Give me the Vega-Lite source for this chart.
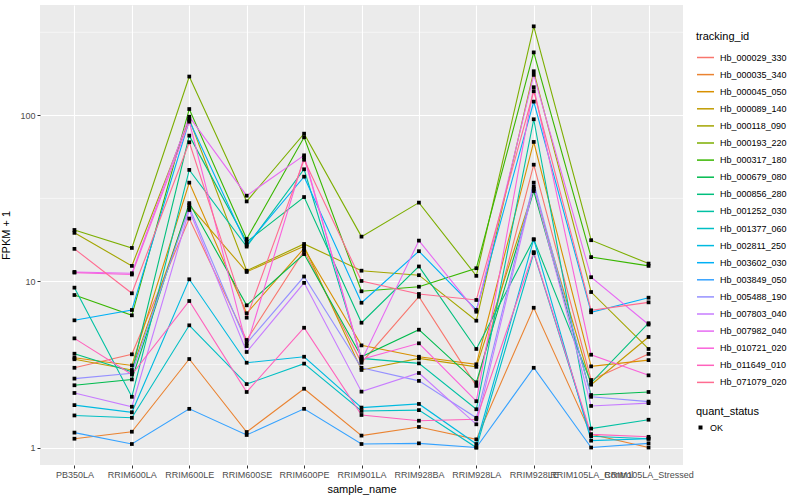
{
"$schema": "https://vega.github.io/schema/vega-lite/v6.json",
"width": 643, "height": 460,
"autosize": "none",
"padding": {"left": 40, "top": 5, "right": 117, "bottom": 35},
"background": "white",
"config": {
  "font": "Liberation Sans",
  "view": {"fill": "#EBEBEB", "stroke": null},
  "axis": {"domain": false, "labelColor": "#4D4D4D", "labelFontSize": 9, "tickColor": "#333333", "tickSize": 3, "labelPadding": 2, "titleFontWeight": "normal", "titleFontSize": 11, "titleColor": "black", "gridColor": "white", "gridWidth": 1.1, "gridOpacity": 1},
  "legend": {"labelFontSize": 9, "labelColor": "black", "titleFontSize": 11, "titleFontWeight": "normal", "titleColor": "black", "padding": 0, "rowPadding": 2.1, "labelOffset": 5, "titlePadding": 6}
},
"datasets": {
  "minor": [{"v": 0.316}, {"v": 3.16}, {"v": 31.6}, {"v": 316}],
  "fpkm": [
{"t":"Hb_000029_330","s":"PB350LA","v":3.02,"q":"OK"},{"t":"Hb_000029_330","s":"RRIM600LA","v":3.64,"q":"OK"},{"t":"Hb_000029_330","s":"RRIM600LE","v":23.9,"q":"OK"},{"t":"Hb_000029_330","s":"RRIM600SE","v":4.44,"q":"OK"},{"t":"Hb_000029_330","s":"RRIM600PE","v":15.3,"q":"OK"},{"t":"Hb_000029_330","s":"RRIM901LA","v":3.24,"q":"OK"},{"t":"Hb_000029_330","s":"RRIM928BA","v":8.09,"q":"OK"},{"t":"Hb_000029_330","s":"RRIM928LA","v":2.35,"q":"OK"},{"t":"Hb_000029_330","s":"RRIM928LE","v":50.4,"q":"OK"},{"t":"Hb_000029_330","s":"RRIM105LA_Control","v":2.55,"q":"OK"},{"t":"Hb_000029_330","s":"RRIM105LA_Stressed","v":3.66,"q":"OK"},
{"t":"Hb_000035_340","s":"PB350LA","v":1.13,"q":"OK"},{"t":"Hb_000035_340","s":"RRIM600LA","v":1.245,"q":"OK"},{"t":"Hb_000035_340","s":"RRIM600LE","v":3.41,"q":"OK"},{"t":"Hb_000035_340","s":"RRIM600SE","v":1.24,"q":"OK"},{"t":"Hb_000035_340","s":"RRIM600PE","v":2.26,"q":"OK"},{"t":"Hb_000035_340","s":"RRIM901LA","v":1.18,"q":"OK"},{"t":"Hb_000035_340","s":"RRIM928BA","v":1.33,"q":"OK"},{"t":"Hb_000035_340","s":"RRIM928LA","v":1.12,"q":"OK"},{"t":"Hb_000035_340","s":"RRIM928LE","v":6.94,"q":"OK"},{"t":"Hb_000035_340","s":"RRIM105LA_Control","v":1.2,"q":"OK"},{"t":"Hb_000035_340","s":"RRIM105LA_Stressed","v":1.0,"q":"OK"},
{"t":"Hb_000045_050","s":"PB350LA","v":3.47,"q":"OK"},{"t":"Hb_000045_050","s":"RRIM600LA","v":3.12,"q":"OK"},{"t":"Hb_000045_050","s":"RRIM600LE","v":39.3,"q":"OK"},{"t":"Hb_000045_050","s":"RRIM600SE","v":6.43,"q":"OK"},{"t":"Hb_000045_050","s":"RRIM600PE","v":15.8,"q":"OK"},{"t":"Hb_000045_050","s":"RRIM901LA","v":4.12,"q":"OK"},{"t":"Hb_000045_050","s":"RRIM928BA","v":3.52,"q":"OK"},{"t":"Hb_000045_050","s":"RRIM928LA","v":3.17,"q":"OK"},{"t":"Hb_000045_050","s":"RRIM928LE","v":69.1,"q":"OK"},{"t":"Hb_000045_050","s":"RRIM105LA_Control","v":3.08,"q":"OK"},{"t":"Hb_000045_050","s":"RRIM105LA_Stressed","v":3.36,"q":"OK"},
{"t":"Hb_000089_140","s":"PB350LA","v":3.4,"q":"OK"},{"t":"Hb_000089_140","s":"RRIM600LA","v":2.93,"q":"OK"},{"t":"Hb_000089_140","s":"RRIM600LE","v":28.8,"q":"OK"},{"t":"Hb_000089_140","s":"RRIM600SE","v":11.4,"q":"OK"},{"t":"Hb_000089_140","s":"RRIM600PE","v":16.3,"q":"OK"},{"t":"Hb_000089_140","s":"RRIM901LA","v":2.93,"q":"OK"},{"t":"Hb_000089_140","s":"RRIM928BA","v":3.44,"q":"OK"},{"t":"Hb_000089_140","s":"RRIM928LA","v":3.06,"q":"OK"},{"t":"Hb_000089_140","s":"RRIM928LE","v":36.0,"q":"OK"},{"t":"Hb_000089_140","s":"RRIM105LA_Control","v":2.39,"q":"OK"},{"t":"Hb_000089_140","s":"RRIM105LA_Stressed","v":4.63,"q":"OK"},
{"t":"Hb_000118_090","s":"PB350LA","v":19.6,"q":"OK"},{"t":"Hb_000118_090","s":"RRIM600LA","v":12.4,"q":"OK"},{"t":"Hb_000118_090","s":"RRIM600LE","v":95,"q":"OK"},{"t":"Hb_000118_090","s":"RRIM600SE","v":11.6,"q":"OK"},{"t":"Hb_000118_090","s":"RRIM600PE","v":16.8,"q":"OK"},{"t":"Hb_000118_090","s":"RRIM901LA","v":11.6,"q":"OK"},{"t":"Hb_000118_090","s":"RRIM928BA","v":10.9,"q":"OK"},{"t":"Hb_000118_090","s":"RRIM928LA","v":5.8,"q":"OK"},{"t":"Hb_000118_090","s":"RRIM928LE","v":184,"q":"OK"},{"t":"Hb_000118_090","s":"RRIM105LA_Control","v":8.63,"q":"OK"},{"t":"Hb_000118_090","s":"RRIM105LA_Stressed","v":3.92,"q":"OK"},
{"t":"Hb_000193_220","s":"PB350LA","v":20.4,"q":"OK"},{"t":"Hb_000193_220","s":"RRIM600LA","v":15.9,"q":"OK"},{"t":"Hb_000193_220","s":"RRIM600LE","v":171,"q":"OK"},{"t":"Hb_000193_220","s":"RRIM600SE","v":30.3,"q":"OK"},{"t":"Hb_000193_220","s":"RRIM600PE","v":77.5,"q":"OK"},{"t":"Hb_000193_220","s":"RRIM901LA","v":18.6,"q":"OK"},{"t":"Hb_000193_220","s":"RRIM928BA","v":29.8,"q":"OK"},{"t":"Hb_000193_220","s":"RRIM928LA","v":10.8,"q":"OK"},{"t":"Hb_000193_220","s":"RRIM928LE","v":343,"q":"OK"},{"t":"Hb_000193_220","s":"RRIM105LA_Control","v":17.7,"q":"OK"},{"t":"Hb_000193_220","s":"RRIM105LA_Stressed","v":12.8,"q":"OK"},
{"t":"Hb_000317_180","s":"PB350LA","v":8.28,"q":"OK"},{"t":"Hb_000317_180","s":"RRIM600LA","v":6.25,"q":"OK"},{"t":"Hb_000317_180","s":"RRIM600LE","v":109,"q":"OK"},{"t":"Hb_000317_180","s":"RRIM600SE","v":18.0,"q":"OK"},{"t":"Hb_000317_180","s":"RRIM600PE","v":73.7,"q":"OK"},{"t":"Hb_000317_180","s":"RRIM901LA","v":8.72,"q":"OK"},{"t":"Hb_000317_180","s":"RRIM928BA","v":9.29,"q":"OK"},{"t":"Hb_000317_180","s":"RRIM928LA","v":12.0,"q":"OK"},{"t":"Hb_000317_180","s":"RRIM928LE","v":239,"q":"OK"},{"t":"Hb_000317_180","s":"RRIM105LA_Control","v":14.0,"q":"OK"},{"t":"Hb_000317_180","s":"RRIM105LA_Stressed","v":12.4,"q":"OK"},
{"t":"Hb_000679_080","s":"PB350LA","v":2.37,"q":"OK"},{"t":"Hb_000679_080","s":"RRIM600LA","v":2.57,"q":"OK"},{"t":"Hb_000679_080","s":"RRIM600LE","v":29.6,"q":"OK"},{"t":"Hb_000679_080","s":"RRIM600SE","v":7.18,"q":"OK"},{"t":"Hb_000679_080","s":"RRIM600PE","v":14.6,"q":"OK"},{"t":"Hb_000679_080","s":"RRIM901LA","v":3.52,"q":"OK"},{"t":"Hb_000679_080","s":"RRIM928BA","v":5.12,"q":"OK"},{"t":"Hb_000679_080","s":"RRIM928LA","v":2.47,"q":"OK"},{"t":"Hb_000679_080","s":"RRIM928LE","v":35.0,"q":"OK"},{"t":"Hb_000679_080","s":"RRIM105LA_Control","v":2.07,"q":"OK"},{"t":"Hb_000679_080","s":"RRIM105LA_Stressed","v":2.16,"q":"OK"},
{"t":"Hb_000856_280","s":"PB350LA","v":3.67,"q":"OK"},{"t":"Hb_000856_280","s":"RRIM600LA","v":2.86,"q":"OK"},{"t":"Hb_000856_280","s":"RRIM600LE","v":75.4,"q":"OK"},{"t":"Hb_000856_280","s":"RRIM600SE","v":17.3,"q":"OK"},{"t":"Hb_000856_280","s":"RRIM600PE","v":32.2,"q":"OK"},{"t":"Hb_000856_280","s":"RRIM901LA","v":5.64,"q":"OK"},{"t":"Hb_000856_280","s":"RRIM928BA","v":12.3,"q":"OK"},{"t":"Hb_000856_280","s":"RRIM928LA","v":3.92,"q":"OK"},{"t":"Hb_000856_280","s":"RRIM928LE","v":17.9,"q":"OK"},{"t":"Hb_000856_280","s":"RRIM105LA_Control","v":2.45,"q":"OK"},{"t":"Hb_000856_280","s":"RRIM105LA_Stressed","v":5.6,"q":"OK"},
{"t":"Hb_001252_030","s":"PB350LA","v":9.17,"q":"OK"},{"t":"Hb_001252_030","s":"RRIM600LA","v":2.02,"q":"OK"},{"t":"Hb_001252_030","s":"RRIM600LE","v":46.9,"q":"OK"},{"t":"Hb_001252_030","s":"RRIM600SE","v":16.2,"q":"OK"},{"t":"Hb_001252_030","s":"RRIM600PE","v":47.3,"q":"OK"},{"t":"Hb_001252_030","s":"RRIM901LA","v":3.44,"q":"OK"},{"t":"Hb_001252_030","s":"RRIM928BA","v":3.21,"q":"OK"},{"t":"Hb_001252_030","s":"RRIM928LA","v":1.7,"q":"OK"},{"t":"Hb_001252_030","s":"RRIM928LE","v":94.6,"q":"OK"},{"t":"Hb_001252_030","s":"RRIM105LA_Control","v":1.3,"q":"OK"},{"t":"Hb_001252_030","s":"RRIM105LA_Stressed","v":1.47,"q":"OK"},
{"t":"Hb_001377_060","s":"PB350LA","v":1.56,"q":"OK"},{"t":"Hb_001377_060","s":"RRIM600LA","v":1.51,"q":"OK"},{"t":"Hb_001377_060","s":"RRIM600LE","v":5.44,"q":"OK"},{"t":"Hb_001377_060","s":"RRIM600SE","v":2.41,"q":"OK"},{"t":"Hb_001377_060","s":"RRIM600PE","v":3.2,"q":"OK"},{"t":"Hb_001377_060","s":"RRIM901LA","v":1.66,"q":"OK"},{"t":"Hb_001377_060","s":"RRIM928BA","v":1.68,"q":"OK"},{"t":"Hb_001377_060","s":"RRIM928LA","v":1.0,"q":"OK"},{"t":"Hb_001377_060","s":"RRIM928LE","v":14.8,"q":"OK"},{"t":"Hb_001377_060","s":"RRIM105LA_Control","v":1.17,"q":"OK"},{"t":"Hb_001377_060","s":"RRIM105LA_Stressed","v":1.13,"q":"OK"},
{"t":"Hb_002811_250","s":"PB350LA","v":1.8,"q":"OK"},{"t":"Hb_002811_250","s":"RRIM600LA","v":1.63,"q":"OK"},{"t":"Hb_002811_250","s":"RRIM600LE","v":10.3,"q":"OK"},{"t":"Hb_002811_250","s":"RRIM600SE","v":3.24,"q":"OK"},{"t":"Hb_002811_250","s":"RRIM600PE","v":3.52,"q":"OK"},{"t":"Hb_002811_250","s":"RRIM901LA","v":1.74,"q":"OK"},{"t":"Hb_002811_250","s":"RRIM928BA","v":1.83,"q":"OK"},{"t":"Hb_002811_250","s":"RRIM928LA","v":1.05,"q":"OK"},{"t":"Hb_002811_250","s":"RRIM928LE","v":17.9,"q":"OK"},{"t":"Hb_002811_250","s":"RRIM105LA_Control","v":1.1,"q":"OK"},{"t":"Hb_002811_250","s":"RRIM105LA_Stressed","v":1.13,"q":"OK"},
{"t":"Hb_003602_030","s":"PB350LA","v":5.83,"q":"OK"},{"t":"Hb_003602_030","s":"RRIM600LA","v":6.73,"q":"OK"},{"t":"Hb_003602_030","s":"RRIM600LE","v":93,"q":"OK"},{"t":"Hb_003602_030","s":"RRIM600SE","v":16.6,"q":"OK"},{"t":"Hb_003602_030","s":"RRIM600PE","v":42.7,"q":"OK"},{"t":"Hb_003602_030","s":"RRIM901LA","v":7.44,"q":"OK"},{"t":"Hb_003602_030","s":"RRIM928BA","v":15.2,"q":"OK"},{"t":"Hb_003602_030","s":"RRIM928LA","v":6.73,"q":"OK"},{"t":"Hb_003602_030","s":"RRIM928LE","v":120.8,"q":"OK"},{"t":"Hb_003602_030","s":"RRIM105LA_Control","v":6.52,"q":"OK"},{"t":"Hb_003602_030","s":"RRIM105LA_Stressed","v":7.98,"q":"OK"},
{"t":"Hb_003849_050","s":"PB350LA","v":1.23,"q":"OK"},{"t":"Hb_003849_050","s":"RRIM600LA","v":1.05,"q":"OK"},{"t":"Hb_003849_050","s":"RRIM600LE","v":1.71,"q":"OK"},{"t":"Hb_003849_050","s":"RRIM600SE","v":1.19,"q":"OK"},{"t":"Hb_003849_050","s":"RRIM600PE","v":1.71,"q":"OK"},{"t":"Hb_003849_050","s":"RRIM901LA","v":1.05,"q":"OK"},{"t":"Hb_003849_050","s":"RRIM928BA","v":1.06,"q":"OK"},{"t":"Hb_003849_050","s":"RRIM928LA","v":1.0,"q":"OK"},{"t":"Hb_003849_050","s":"RRIM928LE","v":3.02,"q":"OK"},{"t":"Hb_003849_050","s":"RRIM105LA_Control","v":1.0,"q":"OK"},{"t":"Hb_003849_050","s":"RRIM105LA_Stressed","v":1.06,"q":"OK"},
{"t":"Hb_005488_190","s":"PB350LA","v":2.6,"q":"OK"},{"t":"Hb_005488_190","s":"RRIM600LA","v":2.8,"q":"OK"},{"t":"Hb_005488_190","s":"RRIM600LE","v":27.9,"q":"OK"},{"t":"Hb_005488_190","s":"RRIM600SE","v":4.24,"q":"OK"},{"t":"Hb_005488_190","s":"RRIM600PE","v":10.7,"q":"OK"},{"t":"Hb_005488_190","s":"RRIM901LA","v":3.02,"q":"OK"},{"t":"Hb_005488_190","s":"RRIM928BA","v":2.52,"q":"OK"},{"t":"Hb_005488_190","s":"RRIM928LA","v":1.51,"q":"OK"},{"t":"Hb_005488_190","s":"RRIM928LE","v":39.3,"q":"OK"},{"t":"Hb_005488_190","s":"RRIM105LA_Control","v":2.02,"q":"OK"},{"t":"Hb_005488_190","s":"RRIM105LA_Stressed","v":1.89,"q":"OK"},
{"t":"Hb_007803_040","s":"PB350LA","v":2.13,"q":"OK"},{"t":"Hb_007803_040","s":"RRIM600LA","v":1.76,"q":"OK"},{"t":"Hb_007803_040","s":"RRIM600LE","v":26.9,"q":"OK"},{"t":"Hb_007803_040","s":"RRIM600SE","v":3.76,"q":"OK"},{"t":"Hb_007803_040","s":"RRIM600PE","v":9.8,"q":"OK"},{"t":"Hb_007803_040","s":"RRIM901LA","v":2.17,"q":"OK"},{"t":"Hb_007803_040","s":"RRIM928BA","v":2.81,"q":"OK"},{"t":"Hb_007803_040","s":"RRIM928LA","v":1.38,"q":"OK"},{"t":"Hb_007803_040","s":"RRIM928LE","v":37.2,"q":"OK"},{"t":"Hb_007803_040","s":"RRIM105LA_Control","v":1.78,"q":"OK"},{"t":"Hb_007803_040","s":"RRIM105LA_Stressed","v":1.85,"q":"OK"},
{"t":"Hb_007982_040","s":"PB350LA","v":11.4,"q":"OK"},{"t":"Hb_007982_040","s":"RRIM600LA","v":11.2,"q":"OK"},{"t":"Hb_007982_040","s":"RRIM600LE","v":98,"q":"OK"},{"t":"Hb_007982_040","s":"RRIM600SE","v":32.8,"q":"OK"},{"t":"Hb_007982_040","s":"RRIM600PE","v":57.4,"q":"OK"},{"t":"Hb_007982_040","s":"RRIM901LA","v":3.33,"q":"OK"},{"t":"Hb_007982_040","s":"RRIM928BA","v":17.6,"q":"OK"},{"t":"Hb_007982_040","s":"RRIM928LA","v":6.57,"q":"OK"},{"t":"Hb_007982_040","s":"RRIM928LE","v":175,"q":"OK"},{"t":"Hb_007982_040","s":"RRIM105LA_Control","v":10.6,"q":"OK"},{"t":"Hb_007982_040","s":"RRIM105LA_Stressed","v":5.5,"q":"OK"},
{"t":"Hb_010721_020","s":"PB350LA","v":11.3,"q":"OK"},{"t":"Hb_010721_020","s":"RRIM600LA","v":11.0,"q":"OK"},{"t":"Hb_010721_020","s":"RRIM600LE","v":91.5,"q":"OK"},{"t":"Hb_010721_020","s":"RRIM600SE","v":4.08,"q":"OK"},{"t":"Hb_010721_020","s":"RRIM600PE","v":55.9,"q":"OK"},{"t":"Hb_010721_020","s":"RRIM901LA","v":3.4,"q":"OK"},{"t":"Hb_010721_020","s":"RRIM928BA","v":4.24,"q":"OK"},{"t":"Hb_010721_020","s":"RRIM928LA","v":1.9,"q":"OK"},{"t":"Hb_010721_020","s":"RRIM928LE","v":147.5,"q":"OK"},{"t":"Hb_010721_020","s":"RRIM105LA_Control","v":3.62,"q":"OK"},{"t":"Hb_010721_020","s":"RRIM105LA_Stressed","v":2.72,"q":"OK"},
{"t":"Hb_011649_010","s":"PB350LA","v":4.54,"q":"OK"},{"t":"Hb_011649_010","s":"RRIM600LA","v":2.75,"q":"OK"},{"t":"Hb_011649_010","s":"RRIM600LE","v":7.62,"q":"OK"},{"t":"Hb_011649_010","s":"RRIM600SE","v":2.16,"q":"OK"},{"t":"Hb_011649_010","s":"RRIM600PE","v":5.26,"q":"OK"},{"t":"Hb_011649_010","s":"RRIM901LA","v":1.57,"q":"OK"},{"t":"Hb_011649_010","s":"RRIM928BA","v":1.45,"q":"OK"},{"t":"Hb_011649_010","s":"RRIM928LA","v":1.48,"q":"OK"},{"t":"Hb_011649_010","s":"RRIM928LE","v":15.0,"q":"OK"},{"t":"Hb_011649_010","s":"RRIM105LA_Control","v":1.2,"q":"OK"},{"t":"Hb_011649_010","s":"RRIM105LA_Stressed","v":1.16,"q":"OK"},
{"t":"Hb_071079_020","s":"PB350LA","v":15.7,"q":"OK"},{"t":"Hb_071079_020","s":"RRIM600LA","v":8.48,"q":"OK"},{"t":"Hb_071079_020","s":"RRIM600LE","v":68.8,"q":"OK"},{"t":"Hb_071079_020","s":"RRIM600SE","v":6.05,"q":"OK"},{"t":"Hb_071079_020","s":"RRIM600PE","v":54.0,"q":"OK"},{"t":"Hb_071079_020","s":"RRIM901LA","v":10.06,"q":"OK"},{"t":"Hb_071079_020","s":"RRIM928BA","v":8.4,"q":"OK"},{"t":"Hb_071079_020","s":"RRIM928LA","v":7.73,"q":"OK"},{"t":"Hb_071079_020","s":"RRIM928LE","v":139.5,"q":"OK"},{"t":"Hb_071079_020","s":"RRIM105LA_Control","v":6.7,"q":"OK"},{"t":"Hb_071079_020","s":"RRIM105LA_Stressed","v":7.48,"q":"OK"}
  ]
},
"layer": [
  {
    "data": {"name": "minor"},
    "mark": {"type": "rule", "color": "white", "strokeWidth": 0.55},
    "encoding": {"y": {"field": "v", "type": "quantitative", "title": "FPKM + 1",
            "scale": {"type": "log", "domain": [0.785, 461], "nice": false},
            "axis": {"values": [1, 10, 100], "format": "d", "grid": true, "titlePadding": 8}}}
  },
  {
    "data": {"name": "fpkm"},
    "mark": {"type": "line", "strokeWidth": 1.1},
    "encoding": {
      "x": {"field": "s", "type": "nominal", "title": "sample_name",
            "scale": {"type": "point", "padding": 0.6, "domain": ["PB350LA","RRIM600LA","RRIM600LE","RRIM600SE","RRIM600PE","RRIM901LA","RRIM928BA","RRIM928LA","RRIM928LE","RRIM105LA_Control","RRIM105LA_Stressed"]},
            "axis": {"labelAngle": 0, "labelOverlap": false, "labelBound": false, "grid": true, "titlePadding": 4}},
      "y": {"field": "v", "type": "quantitative", "title": "FPKM + 1",
            "scale": {"type": "log", "domain": [0.785, 461], "nice": false},
            "axis": {"values": [1, 10, 100], "format": "d", "grid": true, "titlePadding": 8}},
      "color": {"field": "t", "type": "nominal", "title": "tracking_id",
                "scale": {"domain": ["Hb_000029_330","Hb_000035_340","Hb_000045_050","Hb_000089_140","Hb_000118_090","Hb_000193_220","Hb_000317_180","Hb_000679_080","Hb_000856_280","Hb_001252_030","Hb_001377_060","Hb_002811_250","Hb_003602_030","Hb_003849_050","Hb_005488_190","Hb_007803_040","Hb_007982_040","Hb_010721_020","Hb_011649_010","Hb_071079_020"],
                          "range": ["#F8766D","#EA8331","#D89000","#C09B00","#A3A500","#7CAE00","#39B600","#00BB4E","#00BF7D","#00C1A3","#00BFC4","#00BAE0","#00B0F6","#35A2FF","#9590FF","#C77CFF","#E76BF3","#FA62DB","#FF62BC","#FF6C91"]},
                "legend": {"orient": "none", "legendX": 656, "legendY": 26, "symbolType": "stroke", "symbolSize": 289, "symbolStrokeWidth": 1.5}}
    }
  },
  {
    "data": {"name": "fpkm"},
    "mark": {"type": "point", "filled": true, "color": "black", "opacity": 1, "size": 14},
    "encoding": {
      "x": {"field": "s", "type": "nominal"},
      "y": {"field": "v", "type": "quantitative"},
      "shape": {"field": "q", "type": "nominal", "title": "quant_status",
                "scale": {"range": ["square"]},
                "legend": {"orient": "none", "legendX": 656, "legendY": 401, "symbolSize": 16, "symbolFillColor": "black", "symbolStrokeColor": "black"}}
    }
  }
]
}
